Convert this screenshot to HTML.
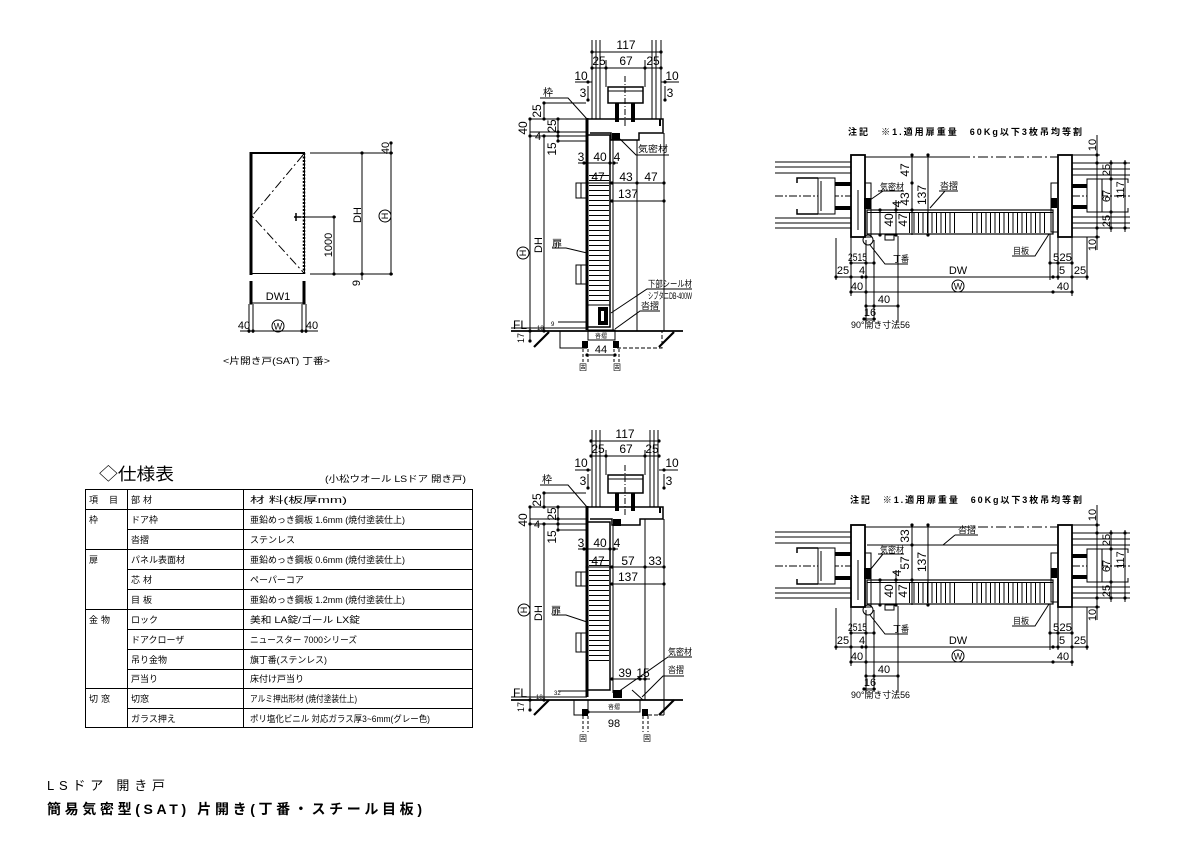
<!DOCTYPE html>
<html><head><meta charset="utf-8">
<style>
html,body{margin:0;padding:0;background:#fff;}
svg{display:block;}
text{font-family:"Liberation Sans","Noto Sans CJK JP",sans-serif;fill:#000;stroke:none;}
</style></head><body>
<svg width="1191" height="842" viewBox="0 0 1191 842" xmlns="http://www.w3.org/2000/svg">
<defs>
<pattern id="hh" width="10" height="5" patternUnits="userSpaceOnUse"><line x1="0" y1="0.5" x2="10" y2="0.5" stroke="#000" stroke-width="1"/></pattern>
<pattern id="vh" width="4.5" height="10" patternUnits="userSpaceOnUse"><line x1="0.5" y1="0" x2="0.5" y2="10" stroke="#000" stroke-width="1"/></pattern>
</defs>
<rect width="1191" height="842" fill="#fff"/>

<!-- ================= ELEVATION ================= -->
<g stroke="#000" stroke-width="1" fill="none">
<rect x="250.5" y="153.5" width="54" height="120"/>
<line x1="251" y1="152" x2="251" y2="275" stroke-width="3"/>
<line x1="304" y1="153" x2="304" y2="274" stroke-width="2.5" stroke-dasharray="2,1.5"/>
<line x1="250" y1="153" x2="305" y2="153" stroke-width="2"/>
<polyline points="303,155 252,216 303,272" stroke-dasharray="9,3,2,3"/>
<line x1="294" y1="217" x2="301" y2="217" stroke-width="1.5"/>
<line x1="296" y1="213" x2="296" y2="221" stroke-width="1.5"/>
<path d="M310 153H393M310 274H393M300 217H336M362 153V280M334 217V274M391 142V274"/>
<line x1="251" y1="281" x2="251" y2="304" stroke-width="3"/>
<line x1="304" y1="281" x2="304" y2="304" stroke-width="3"/>
<path d="M249 304V333M253 304V333M302 304V333M306 304V333M251 303H304M240 331H318"/>
<circle cx="385" cy="216" r="6"/>
<circle cx="278" cy="326" r="6"/>
</g>
<g fill="#000">
<circle cx="391" cy="143" r="1.6"/><circle cx="391" cy="153" r="1.6"/><circle cx="391" cy="274" r="1.6"/>
<circle cx="362" cy="153" r="1.6"/><circle cx="362" cy="274" r="1.6"/><circle cx="334" cy="217" r="1.6"/><circle cx="334" cy="274" r="1.6"/>
<circle cx="251" cy="303" r="1.6"/><circle cx="304" cy="303" r="1.6"/><circle cx="249" cy="331" r="1.6"/><circle cx="253" cy="331" r="1.6"/><circle cx="302" cy="331" r="1.6"/><circle cx="306" cy="331" r="1.6"/>
</g>
<g font-size="11">
<text transform="translate(389,148) rotate(-90)" text-anchor="middle">40</text>
<text transform="translate(361,215) rotate(-90)" text-anchor="middle">DH</text>
<text transform="translate(388,216) rotate(-90)" text-anchor="middle" font-size="9">H</text>
<text transform="translate(332,245) rotate(-90)" text-anchor="middle">1000</text>
<text transform="translate(360,283) rotate(-90)" text-anchor="middle">9</text>
<text x="278" y="300" text-anchor="middle">DW1</text>
<text x="244" y="329" text-anchor="middle">40</text>
<text x="312" y="329" text-anchor="middle">40</text>
<text x="278" y="329.5" text-anchor="middle" font-size="9">W</text>
<text x="223" y="364" font-size="9" textLength="107" lengthAdjust="spacingAndGlyphs">&lt;片開き戸(SAT) 丁番&gt;</text>
</g>

<!-- ================= SECTION 1 (top) ================= -->
<g stroke="#000" stroke-width="1" fill="none">
<path d="M592 40V119M596 40V119M600 40V119M652 40V119M656 40V119M661 40V119M606 60V87M645 60V87"/>
<path d="M592 52H661M592 68H661M575 82H592M661 82H679M588 86V100M665 86V100"/>
<rect x="608" y="87" width="35" height="16" stroke-width="1.5" fill="#fff"/>
<path d="M608 91H643"/>
<path d="M625 76V128" stroke-dasharray="6,2,1,2"/>
<path d="M586 119H663V133H639V140H611V133H590" stroke-width="1.5"/>
<path d="M660 119V126" stroke-width="2"/>
<line x1="587" y1="118" x2="587" y2="330" stroke-width="3"/>
<path d="M587 135H610V327H587" stroke-width="1.5"/>
<path d="M613 140V331M637 140V331M664 133V331M587 305H610"/>
<rect x="588" y="330" width="27" height="10"/>
<path d="M530 119V341M544 103V119M544 136V331M558 119V141"/>
<path d="M530 119H586M530 132H586M530 136H586M544 103H586M558 141H586"/>
<path d="M578 163H618M587 183H664M612 201H664"/>
<path d="M587 183H576V198H587M581 183V198"/>
<path d="M587 265H576V284H587M581 265V284"/>
<path d="M540 98H568L587 119"/>
<path d="M552 248H566L587 253"/>
<path d="M669 155H636L620 139"/>
<path d="M692 289H647L611 313"/>
<path d="M660 311H640L615 329"/>
<line x1="511" y1="331" x2="683" y2="331" stroke-width="1.8"/>
<path d="M511 328H587M558 322H587"/>
<path d="M534 347L549 332M659 347L674 332" stroke-width="2.2"/>
<path d="M560 331V348H587"/>
<path d="M617 348H662V331" stroke-dasharray="4,2"/>
<path d="M583 349V363M588 349V363M614 349V363M619 349V363" stroke-dasharray="3,2"/>
<path d="M587 355H615"/>
</g>
<g fill="#000">
<rect x="615" y="103" width="4" height="19"/><rect x="631" y="103" width="4" height="19"/>
<rect x="612" y="133" width="8" height="7"/>
<rect x="598" y="307" width="10" height="18"/>
<rect x="582" y="341" width="6" height="7"/><rect x="613" y="341" width="6" height="7"/>
<circle cx="592" cy="52" r="1.6"/><circle cx="661" cy="52" r="1.6"/>
<circle cx="592" cy="68" r="1.6"/><circle cx="606" cy="68" r="1.6"/><circle cx="645" cy="68" r="1.6"/><circle cx="661" cy="68" r="1.6"/>
<circle cx="588" cy="82" r="1.6"/><circle cx="665" cy="82" r="1.6"/><circle cx="588" cy="100" r="1.6"/><circle cx="665" cy="100" r="1.6"/>
<circle cx="530" cy="119" r="1.6"/><circle cx="530" cy="136" r="1.6"/><circle cx="530" cy="331" r="1.6"/><circle cx="530" cy="341" r="1.6"/>
<circle cx="544" cy="103" r="1.6"/><circle cx="544" cy="119" r="1.6"/><circle cx="544" cy="136" r="1.6"/><circle cx="544" cy="331" r="1.6"/>
<circle cx="558" cy="119" r="1.6"/><circle cx="558" cy="132" r="1.6"/><circle cx="558" cy="136" r="1.6"/><circle cx="558" cy="141" r="1.6"/>
<circle cx="584" cy="163" r="1.6"/><circle cx="610" cy="163" r="1.6"/><circle cx="614" cy="163" r="1.6"/>
<circle cx="587" cy="183" r="1.6"/><circle cx="612" cy="183" r="1.6"/><circle cx="637" cy="183" r="1.6"/><circle cx="664" cy="183" r="1.6"/>
<circle cx="612" cy="201" r="1.6"/><circle cx="664" cy="201" r="1.6"/>
<circle cx="587" cy="355" r="1.6"/><circle cx="615" cy="355" r="1.6"/>
</g>
<rect x="601" y="311" width="3" height="10" fill="#fff"/>
<rect x="589" y="172" width="20" height="133" fill="url(#hh)"/>
<circle cx="523" cy="253" r="6" fill="none" stroke="#000"/>
<g font-size="12">
<text x="626" y="49" text-anchor="middle">117</text>
<text x="599" y="65" text-anchor="middle">25</text><text x="626" y="65" text-anchor="middle">67</text><text x="653" y="65" text-anchor="middle">25</text>
<text x="581" y="80" text-anchor="middle">10</text><text x="672" y="80" text-anchor="middle">10</text>
<text x="583" y="97" text-anchor="middle">3</text><text x="670" y="97" text-anchor="middle">3</text>
<text x="548" y="96" font-size="10" text-anchor="middle">枠</text>
<text transform="translate(527,128) rotate(-90)" text-anchor="middle">40</text>
<text transform="translate(541,111) rotate(-90)" text-anchor="middle">25</text>
<text transform="translate(556,126) rotate(-90)" text-anchor="middle">25</text>
<text x="538" y="140" text-anchor="middle" font-size="11">4</text>
<text transform="translate(556,149) rotate(-90)" text-anchor="middle">15</text>
<text x="638" y="152" font-size="9" textLength="30" lengthAdjust="spacingAndGlyphs">気密材</text>
<text x="581" y="161" text-anchor="middle">3</text><text x="600" y="161" text-anchor="middle">40</text><text x="617" y="161" text-anchor="middle">4</text>
<text x="598" y="181" text-anchor="middle">47</text><text x="626" y="181" text-anchor="middle">43</text><text x="651" y="181" text-anchor="middle">47</text>
<text x="628" y="198" text-anchor="middle">137</text>
<text x="557" y="247" text-anchor="middle" font-size="10">扉</text>
<text transform="translate(526,253) rotate(-90)" text-anchor="middle" font-size="9">H</text>
<text transform="translate(542,245) rotate(-90)" text-anchor="middle" font-size="11">DH</text>
<text x="648" y="287" font-size="9" textLength="44" lengthAdjust="spacingAndGlyphs">下部シール材</text>
<text x="648" y="299" font-size="9" textLength="44" lengthAdjust="spacingAndGlyphs">シブタニDB-400W</text>
<text x="641" y="309" font-size="9" textLength="18" lengthAdjust="spacingAndGlyphs">沓摺</text>
<text x="513" y="329">FL</text>
<text transform="translate(524,338) rotate(-90)" text-anchor="middle" font-size="9">17</text>
<text x="537" y="330" font-size="6">18</text><text x="551" y="326" font-size="6">9</text>
<text x="601" y="338" font-size="6" text-anchor="middle">沓摺</text>
<text x="601" y="353" text-anchor="middle" font-size="11">44</text>
<text x="583" y="370" font-size="8" text-anchor="middle">固</text><text x="617" y="370" font-size="8" text-anchor="middle">固</text>
</g>

<!-- ================= SECTION 2 (bottom) ================= -->
<g stroke="#000" stroke-width="1" fill="none">
<path d="M592 430V507M596 430V507M600 430V507M650 430V507M654 430V507M658 430V507M606 450V475M645 450V475"/>
<path d="M591 441H659M591 456H659M575 470H591M659 470H678M588 474V488M664 474V488"/>
<rect x="608" y="475" width="35" height="18" stroke-width="1.5" fill="#fff"/>
<path d="M608 479H643"/>
<path d="M625 465V516" stroke-dasharray="6,2,1,2"/>
<path d="M586 507H663V519H640V525H612V519H590" stroke-width="1.5"/>
<path d="M660 507V513" stroke-width="2"/>
<line x1="587" y1="506" x2="587" y2="697" stroke-width="3"/>
<path d="M587 522H610V690H587" stroke-width="1.5"/>
<path d="M613 525V693M645 519V688M664 519V715"/>
<path d="M632 690L643 700M645 688L645 700"/>
<rect x="588" y="700" width="52" height="12"/>
<path d="M530 507V710M544 493V507M544 524V700M558 507V530"/>
<path d="M530 507H586M530 519H586M530 524H586M544 493H586M558 530H586"/>
<path d="M578 549H618M587 567H664M612 584H664M612 679H650"/>
<path d="M587 572H576V586H587M581 572V586"/>
<path d="M587 633H576V652H587M581 633V652"/>
<path d="M540 485H568L587 507"/>
<path d="M552 615H566L587 622"/>
<path d="M692 657H668L618 692"/>
<path d="M684 676H663L642 697"/>
<line x1="511" y1="700" x2="683" y2="700" stroke-width="1.8"/>
<path d="M511 697H587M558 691H587"/>
<path d="M534 715L549 700M659 715L674 700" stroke-width="2.2"/>
<path d="M574 700V715H588"/>
<path d="M648 715H664V700" stroke-dasharray="4,2"/>
<path d="M583 716V732M588 716V732M643 716V732M648 716V732" stroke-dasharray="3,2"/>
</g>
<g fill="#000">
<rect x="615" y="493" width="4" height="18"/><rect x="631" y="493" width="4" height="18"/>
<rect x="613" y="519" width="8" height="7"/>
<rect x="613" y="690" width="9" height="8"/>
<rect x="582" y="709" width="6" height="7"/><rect x="642" y="709" width="6" height="7"/>
<circle cx="591" cy="441" r="1.6"/><circle cx="659" cy="441" r="1.6"/>
<circle cx="591" cy="456" r="1.6"/><circle cx="606" cy="456" r="1.6"/><circle cx="645" cy="456" r="1.6"/><circle cx="659" cy="456" r="1.6"/>
<circle cx="588" cy="470" r="1.6"/><circle cx="664" cy="470" r="1.6"/><circle cx="588" cy="488" r="1.6"/><circle cx="664" cy="488" r="1.6"/>
<circle cx="530" cy="507" r="1.6"/><circle cx="530" cy="524" r="1.6"/><circle cx="530" cy="700" r="1.6"/><circle cx="530" cy="710" r="1.6"/>
<circle cx="544" cy="493" r="1.6"/><circle cx="544" cy="507" r="1.6"/><circle cx="544" cy="524" r="1.6"/><circle cx="544" cy="700" r="1.6"/>
<circle cx="558" cy="507" r="1.6"/><circle cx="558" cy="519" r="1.6"/><circle cx="558" cy="524" r="1.6"/><circle cx="558" cy="530" r="1.6"/>
<circle cx="584" cy="549" r="1.6"/><circle cx="610" cy="549" r="1.6"/><circle cx="614" cy="549" r="1.6"/>
<circle cx="587" cy="567" r="1.6"/><circle cx="612" cy="567" r="1.6"/><circle cx="645" cy="567" r="1.6"/><circle cx="664" cy="567" r="1.6"/>
<circle cx="612" cy="584" r="1.6"/><circle cx="664" cy="584" r="1.6"/>
<circle cx="612" cy="679" r="1.6"/><circle cx="640" cy="679" r="1.6"/><circle cx="645" cy="679" r="1.6"/>
<circle cx="588" cy="712" r="1.6"/><circle cx="646" cy="712" r="1.6"/>
</g>
<rect x="589" y="557" width="20" height="108" fill="url(#hh)"/>
<circle cx="524" cy="610" r="6" fill="none" stroke="#000"/>
<g font-size="12">
<text x="625" y="438" text-anchor="middle">117</text>
<text x="598" y="453" text-anchor="middle">25</text><text x="626" y="453" text-anchor="middle">67</text><text x="652" y="453" text-anchor="middle">25</text>
<text x="581" y="467" text-anchor="middle">10</text><text x="672" y="467" text-anchor="middle">10</text>
<text x="583" y="485" text-anchor="middle">3</text><text x="669" y="485" text-anchor="middle">3</text>
<text x="547" y="483" font-size="10" text-anchor="middle">枠</text>
<text transform="translate(527,520) rotate(-90)" text-anchor="middle">40</text>
<text transform="translate(541,500) rotate(-90)" text-anchor="middle">25</text>
<text transform="translate(556,514) rotate(-90)" text-anchor="middle">25</text>
<text x="537" y="528" text-anchor="middle" font-size="11">4</text>
<text transform="translate(556,537) rotate(-90)" text-anchor="middle">15</text>
<text x="581" y="547" text-anchor="middle">3</text><text x="600" y="547" text-anchor="middle">40</text><text x="617" y="547" text-anchor="middle">4</text>
<text x="598" y="565" text-anchor="middle">47</text><text x="628" y="565" text-anchor="middle">57</text><text x="655" y="565" text-anchor="middle">33</text>
<text x="628" y="581" text-anchor="middle">137</text>
<text x="556" y="614" text-anchor="middle" font-size="10">扉</text>
<text transform="translate(527,610) rotate(-90)" text-anchor="middle" font-size="9">H</text>
<text transform="translate(542,613) rotate(-90)" text-anchor="middle" font-size="11">DH</text>
<text x="625" y="677" text-anchor="middle">39</text><text x="643" y="677" text-anchor="middle">15</text>
<text x="668" y="655" font-size="9" textLength="24" lengthAdjust="spacingAndGlyphs">気密材</text>
<text x="668" y="673" font-size="9" textLength="16" lengthAdjust="spacingAndGlyphs">沓摺</text>
<text x="513" y="697">FL</text>
<text transform="translate(524,707) rotate(-90)" text-anchor="middle" font-size="9">17</text>
<text x="536" y="699" font-size="6">18</text><text x="554" y="695" font-size="6">32</text>
<text x="614" y="709" font-size="6" text-anchor="middle">沓摺</text>
<text x="614" y="727" text-anchor="middle" font-size="11">98</text>
<text x="583" y="741" font-size="8" text-anchor="middle">固</text><text x="647" y="741" font-size="8" text-anchor="middle">固</text>
</g>

<!-- ================= PLAN 1 ================= -->
<g>
<g stroke="#000" stroke-width="1" fill="none">
<path d="M775 162H851M775 167H851M775 173H851M775 218H851M775 223H851M775 228H851"/>
<path d="M775 196H851" stroke-dasharray="8,2,2,2"/>
<path d="M818 178H797V183M818 214H797V209" stroke-width="1.5"/>
<rect x="818" y="178" width="17" height="36" fill="#fff"/>
<path d="M821 181V211"/>
<rect x="851" y="155" width="14" height="82" stroke-width="1.8" fill="#fff"/>
<path d="M865 183H871V237H865M858 190V230"/>
<rect x="1058" y="155" width="14" height="82" stroke-width="1.8" fill="#fff"/>
<path d="M1058 183H1051V232H1058"/>
<path d="M1072 163H1130M1072 169H1130M1072 175H1130M1072 217H1130M1072 223H1130M1072 228H1130"/>
<path d="M1072 196H1130" stroke-dasharray="8,2,2,2"/>
<rect x="1087" y="179" width="15" height="33" fill="#fff"/>
<path d="M1102 179H1128V183M1102 212H1128V208"/>
<path d="M865 157H960"/>
<path d="M960 157H1058" stroke-dasharray="10,3,2,3"/>
<rect x="867" y="210" width="186" height="24" stroke-width="1.2"/>
<path d="M867 212.5H1053"/>
<circle cx="868" cy="240" r="5"/>
<rect x="885" y="235" width="9" height="5"/>
<path d="M912 155V235M928 155V235M896 200V235M880 210V235"/>
<path d="M836 238V280M851 237V296M866 240V322M874 240V322M898 236V322M1050 234V280M1058 237V280M1072 237V296M1087 237V280"/>
<path d="M851 263H874M1050 263H1072M836 277H1087M851 292H1072M866 306H898M864 319H876"/>
<path d="M1097 135V250M1111 160V232M1125 160V232M1072 155H1100M1072 237H1100"/>
<path d="M908 264H885L870 245"/>
<path d="M1012 256H1035L1049 234"/>
<path d="M939 191H958M945 191L930 208"/>
<path d="M878 191H904M883 191L870 200"/>
</g>
<g fill="#000">
<rect x="835" y="182" width="16" height="4"/><rect x="835" y="206" width="16" height="4"/>
<rect x="1072" y="184" width="15" height="4"/><rect x="1072" y="205" width="15" height="4"/>
<rect x="864" y="198" width="7" height="11"/><rect x="1051" y="198" width="6" height="10"/>
<circle cx="912" cy="155" r="1.6"/><circle cx="912" cy="183" r="1.6"/><circle cx="912" cy="210" r="1.6"/>
<circle cx="928" cy="155" r="1.6"/><circle cx="928" cy="235" r="1.6"/>
<circle cx="896" cy="210" r="1.6"/><circle cx="896" cy="235" r="1.6"/><circle cx="880" cy="210" r="1.6"/><circle cx="880" cy="235" r="1.6"/>
<circle cx="851" cy="263" r="1.6"/><circle cx="866" cy="263" r="1.6"/><circle cx="874" cy="263" r="1.6"/>
<circle cx="1050" cy="263" r="1.6"/><circle cx="1058" cy="263" r="1.6"/><circle cx="1072" cy="263" r="1.6"/>
<circle cx="836" cy="277" r="1.6"/><circle cx="851" cy="277" r="1.6"/><circle cx="862" cy="277" r="1.6"/><circle cx="866" cy="277" r="1.6"/>
<circle cx="1053" cy="277" r="1.6"/><circle cx="1058" cy="277" r="1.6"/><circle cx="1072" cy="277" r="1.6"/><circle cx="1087" cy="277" r="1.6"/>
<circle cx="851" cy="292" r="1.6"/><circle cx="866" cy="292" r="1.6"/><circle cx="1053" cy="292" r="1.6"/><circle cx="1072" cy="292" r="1.6"/>
<circle cx="866" cy="306" r="1.6"/><circle cx="874" cy="306" r="1.6"/><circle cx="898" cy="306" r="1.6"/>
<circle cx="864" cy="319" r="1.6"/><circle cx="874" cy="319" r="1.6"/>
<circle cx="1097" cy="155" r="1.6"/><circle cx="1097" cy="163" r="1.6"/><circle cx="1097" cy="228" r="1.6"/><circle cx="1097" cy="237" r="1.6"/>
<circle cx="1111" cy="163" r="1.6"/><circle cx="1111" cy="179" r="1.6"/><circle cx="1111" cy="212" r="1.6"/><circle cx="1111" cy="228" r="1.6"/>
<circle cx="1125" cy="163" r="1.6"/><circle cx="1125" cy="228" r="1.6"/>
</g>
<rect x="908" y="213" width="50" height="20" fill="url(#vh)"/>
<rect x="970" y="213" width="76" height="20" fill="url(#vh)"/>
<circle cx="958" cy="286" r="6" fill="none" stroke="#000"/>
</g>
<g font-size="12">
<text x="848" y="135" font-size="9" font-weight="bold" textLength="234" lengthAdjust="spacing">注記　※1.適用扉重量　60Kg以下3枚吊均等割</text>
<text transform="translate(909,170) rotate(-90)" text-anchor="middle">47</text>
<text transform="translate(909,199) rotate(-90)" text-anchor="middle">43</text>
<text transform="translate(926,195) rotate(-90)" text-anchor="middle">137</text>
<text transform="translate(901,204) rotate(-90)" text-anchor="middle">4</text>
<text transform="translate(893,220) rotate(-90)" text-anchor="middle">40</text>
<text transform="translate(907,220) rotate(-90)" text-anchor="middle">47</text>
<text x="880" y="190" font-size="9" textLength="24" lengthAdjust="spacingAndGlyphs">気密材</text>
<text x="940" y="189" font-size="9" textLength="18" lengthAdjust="spacingAndGlyphs">沓摺</text>
<text x="893" y="262" font-size="9" textLength="16" lengthAdjust="spacingAndGlyphs">丁番</text>
<text x="1013" y="254" font-size="9" textLength="16" lengthAdjust="spacingAndGlyphs">目板</text>
<text x="848" y="261" font-size="11" textLength="19" lengthAdjust="spacingAndGlyphs">2515</text>
<text x="843" y="274" text-anchor="middle" font-size="11">25</text>
<text x="862" y="274" text-anchor="middle" font-size="11">4</text>
<text x="958" y="274" text-anchor="middle" font-size="11">DW</text>
<text x="958" y="289.5" text-anchor="middle" font-size="9">W</text>
<text x="857" y="290" text-anchor="middle" font-size="11">40</text>
<text x="1063" y="290" text-anchor="middle" font-size="11">40</text>
<text x="1053" y="261" font-size="11" textLength="19" lengthAdjust="spacingAndGlyphs">525</text>
<text x="1062" y="274" text-anchor="middle" font-size="11">5</text>
<text x="1080" y="274" text-anchor="middle" font-size="11">25</text>
<text x="884" y="303" text-anchor="middle" font-size="11">40</text>
<text x="870" y="316" text-anchor="middle" font-size="11">16</text>
<text x="851" y="328" font-size="9" textLength="59" lengthAdjust="spacingAndGlyphs">90°開き寸法56</text>
<text transform="translate(1096,145) rotate(-90)" text-anchor="middle" font-size="11">10</text>
<text transform="translate(1096,245) rotate(-90)" text-anchor="middle" font-size="11">10</text>
<text transform="translate(1110,170) rotate(-90)" text-anchor="middle" font-size="11">25</text>
<text transform="translate(1110,196) rotate(-90)" text-anchor="middle" font-size="11">67</text>
<text transform="translate(1110,221) rotate(-90)" text-anchor="middle" font-size="11">25</text>
<text transform="translate(1124,190) rotate(-90)" text-anchor="middle" font-size="11">117</text>
</g>

<!-- ================= PLAN 2 ================= -->
<g transform="translate(0,370)">
<g stroke="#000" stroke-width="1" fill="none">
<path d="M775 162H851M775 167H851M775 173H851M775 218H851M775 223H851M775 228H851"/>
<path d="M775 196H851" stroke-dasharray="8,2,2,2"/>
<path d="M818 178H797V183M818 214H797V209" stroke-width="1.5"/>
<rect x="818" y="178" width="17" height="36" fill="#fff"/>
<path d="M821 181V211"/>
<rect x="851" y="155" width="14" height="82" stroke-width="1.8" fill="#fff"/>
<path d="M865 183H871V237H865M858 190V230"/>
<rect x="1058" y="155" width="14" height="82" stroke-width="1.8" fill="#fff"/>
<path d="M1058 183H1051V232H1058"/>
<path d="M1072 163H1130M1072 169H1130M1072 175H1130M1072 217H1130M1072 223H1130M1072 228H1130"/>
<path d="M1072 196H1130" stroke-dasharray="8,2,2,2"/>
<rect x="1087" y="179" width="15" height="33" fill="#fff"/>
<path d="M1102 179H1128V183M1102 212H1128V208"/>
<path d="M865 157H960"/>
<path d="M960 157H1058" stroke-dasharray="10,3,2,3"/>
<path d="M867 175H1057"/>
<rect x="867" y="210" width="186" height="24" stroke-width="1.2"/>
<path d="M867 212.5H1053"/>
<circle cx="868" cy="240" r="5"/>
<rect x="885" y="235" width="9" height="5"/>
<path d="M912 155V235M928 155V235M896 200V235M880 210V235"/>
<path d="M836 238V280M851 237V296M866 240V322M874 240V322M898 236V322M1050 234V280M1058 237V280M1072 237V296M1087 237V280"/>
<path d="M851 263H874M1050 263H1072M836 277H1087M851 292H1072M866 306H898M864 319H876"/>
<path d="M1097 135V250M1111 160V232M1125 160V232M1072 155H1100M1072 237H1100"/>
<path d="M908 264H885L870 245"/>
<path d="M1012 256H1035L1049 234"/>
<path d="M955 165H978M955 165L943 175"/>
<path d="M878 184H904M883 184L870 200"/>
</g>
<g fill="#000">
<rect x="835" y="182" width="16" height="4"/><rect x="835" y="206" width="16" height="4"/>
<rect x="1072" y="184" width="15" height="4"/><rect x="1072" y="205" width="15" height="4"/>
<rect x="864" y="198" width="7" height="11"/><rect x="1051" y="198" width="6" height="10"/>
<circle cx="912" cy="155" r="1.6"/><circle cx="912" cy="175" r="1.6"/><circle cx="912" cy="210" r="1.6"/>
<circle cx="928" cy="155" r="1.6"/><circle cx="928" cy="235" r="1.6"/>
<circle cx="896" cy="210" r="1.6"/><circle cx="896" cy="235" r="1.6"/><circle cx="880" cy="210" r="1.6"/><circle cx="880" cy="235" r="1.6"/>
<circle cx="851" cy="263" r="1.6"/><circle cx="866" cy="263" r="1.6"/><circle cx="874" cy="263" r="1.6"/>
<circle cx="1050" cy="263" r="1.6"/><circle cx="1058" cy="263" r="1.6"/><circle cx="1072" cy="263" r="1.6"/>
<circle cx="836" cy="277" r="1.6"/><circle cx="851" cy="277" r="1.6"/><circle cx="862" cy="277" r="1.6"/><circle cx="866" cy="277" r="1.6"/>
<circle cx="1053" cy="277" r="1.6"/><circle cx="1058" cy="277" r="1.6"/><circle cx="1072" cy="277" r="1.6"/><circle cx="1087" cy="277" r="1.6"/>
<circle cx="851" cy="292" r="1.6"/><circle cx="866" cy="292" r="1.6"/><circle cx="1053" cy="292" r="1.6"/><circle cx="1072" cy="292" r="1.6"/>
<circle cx="866" cy="306" r="1.6"/><circle cx="874" cy="306" r="1.6"/><circle cx="898" cy="306" r="1.6"/>
<circle cx="864" cy="319" r="1.6"/><circle cx="874" cy="319" r="1.6"/>
<circle cx="1097" cy="155" r="1.6"/><circle cx="1097" cy="163" r="1.6"/><circle cx="1097" cy="228" r="1.6"/><circle cx="1097" cy="237" r="1.6"/>
<circle cx="1111" cy="163" r="1.6"/><circle cx="1111" cy="179" r="1.6"/><circle cx="1111" cy="212" r="1.6"/><circle cx="1111" cy="228" r="1.6"/>
<circle cx="1125" cy="163" r="1.6"/><circle cx="1125" cy="228" r="1.6"/>
</g>
<rect x="908" y="213" width="50" height="20" fill="url(#vh)"/>
<rect x="970" y="213" width="76" height="20" fill="url(#vh)"/>
<circle cx="958" cy="286" r="6" fill="none" stroke="#000"/>
<g font-size="12">
<text x="850" y="133" font-size="9" font-weight="bold" textLength="232" lengthAdjust="spacing">注記　※1.適用扉重量　60Kg以下3枚吊均等割</text>
<text transform="translate(909,166) rotate(-90)" text-anchor="middle">33</text>
<text transform="translate(909,193) rotate(-90)" text-anchor="middle">57</text>
<text transform="translate(926,192) rotate(-90)" text-anchor="middle">137</text>
<text transform="translate(901,203) rotate(-90)" text-anchor="middle">4</text>
<text transform="translate(893,221) rotate(-90)" text-anchor="middle">40</text>
<text transform="translate(907,221) rotate(-90)" text-anchor="middle">47</text>
<text x="880" y="183" font-size="9" textLength="24" lengthAdjust="spacingAndGlyphs">気密材</text>
<text x="958" y="163" font-size="9" textLength="18" lengthAdjust="spacingAndGlyphs">沓摺</text>
<text x="893" y="262" font-size="9" textLength="16" lengthAdjust="spacingAndGlyphs">丁番</text>
<text x="1013" y="254" font-size="9" textLength="16" lengthAdjust="spacingAndGlyphs">目板</text>
<text x="848" y="261" font-size="11" textLength="19" lengthAdjust="spacingAndGlyphs">2515</text>
<text x="843" y="274" text-anchor="middle" font-size="11">25</text>
<text x="862" y="274" text-anchor="middle" font-size="11">4</text>
<text x="958" y="274" text-anchor="middle" font-size="11">DW</text>
<text x="958" y="289.5" text-anchor="middle" font-size="9">W</text>
<text x="857" y="290" text-anchor="middle" font-size="11">40</text>
<text x="1063" y="290" text-anchor="middle" font-size="11">40</text>
<text x="1053" y="261" font-size="11" textLength="19" lengthAdjust="spacingAndGlyphs">525</text>
<text x="1062" y="274" text-anchor="middle" font-size="11">5</text>
<text x="1080" y="274" text-anchor="middle" font-size="11">25</text>
<text x="884" y="303" text-anchor="middle" font-size="11">40</text>
<text x="870" y="316" text-anchor="middle" font-size="11">16</text>
<text x="851" y="328" font-size="9" textLength="59" lengthAdjust="spacingAndGlyphs">90°開き寸法56</text>
<text transform="translate(1096,145) rotate(-90)" text-anchor="middle" font-size="11">10</text>
<text transform="translate(1096,245) rotate(-90)" text-anchor="middle" font-size="11">10</text>
<text transform="translate(1110,170) rotate(-90)" text-anchor="middle" font-size="11">25</text>
<text transform="translate(1110,196) rotate(-90)" text-anchor="middle" font-size="11">67</text>
<text transform="translate(1110,221) rotate(-90)" text-anchor="middle" font-size="11">25</text>
<text transform="translate(1124,190) rotate(-90)" text-anchor="middle" font-size="11">117</text>
</g>
</g>

<!-- ================= TABLE ================= -->
<text x="99" y="480" font-size="17" textLength="75" lengthAdjust="spacingAndGlyphs">◇仕様表</text>
<text x="325" y="482" font-size="9" textLength="141" lengthAdjust="spacingAndGlyphs">(小松ウオール LSドア 開き戸)</text>
<g stroke="#000" stroke-width="1" fill="none">
<rect x="85.5" y="489.5" width="387" height="238"/>
<path d="M127.5 489V728M243.5 489V728"/>
<path d="M85 509.5H473M127 529.5H473M85 549.5H473M127 569.5H473M127 589.5H473M85 609.5H473M127 629.5H473M127 649.5H473M127 669.5H473M85 688.5H473M127 708.5H473"/>
</g>
<g font-size="9">
<text x="89" y="503" textLength="29" lengthAdjust="spacing">項 目</text>
<text x="131" y="503" textLength="21" lengthAdjust="spacing">部 材</text>
<text x="250" y="503" textLength="97" lengthAdjust="spacingAndGlyphs">材 料(板厚mm)</text>
<text x="89" y="523">枠</text>
<text x="131" y="523">ドア枠</text>
<text x="250" y="523" textLength="155" lengthAdjust="spacingAndGlyphs">亜鉛めっき鋼板 1.6mm (焼付塗装仕上)</text>
<text x="131" y="543">沓摺</text>
<text x="250" y="543">ステンレス</text>
<text x="89" y="563">扉</text>
<text x="131" y="563">パネル表面材</text>
<text x="250" y="563" textLength="155" lengthAdjust="spacingAndGlyphs">亜鉛めっき鋼板 0.6mm (焼付塗装仕上)</text>
<text x="131" y="583" textLength="21" lengthAdjust="spacing">芯 材</text>
<text x="250" y="583">ペーパーコア</text>
<text x="131" y="603" textLength="21" lengthAdjust="spacing">目 板</text>
<text x="250" y="603" textLength="155" lengthAdjust="spacingAndGlyphs">亜鉛めっき鋼板 1.2mm (焼付塗装仕上)</text>
<text x="89" y="623" textLength="21" lengthAdjust="spacing">金 物</text>
<text x="131" y="623">ロック</text>
<text x="250" y="623" textLength="110" lengthAdjust="spacingAndGlyphs">美和 LA錠/ゴール LX錠</text>
<text x="131" y="643">ドアクローザ</text>
<text x="250" y="643" textLength="107" lengthAdjust="spacingAndGlyphs">ニュースター 7000シリーズ</text>
<text x="131" y="663">吊り金物</text>
<text x="250" y="663" textLength="77" lengthAdjust="spacingAndGlyphs">旗丁番(ステンレス)</text>
<text x="131" y="682">戸当り</text>
<text x="250" y="682">床付け戸当り</text>
<text x="89" y="702" textLength="21" lengthAdjust="spacing">切 窓</text>
<text x="131" y="702">切窓</text>
<text x="250" y="702" textLength="107" lengthAdjust="spacingAndGlyphs">アルミ押出形材 (焼付塗装仕上)</text>
<text x="131" y="722">ガラス押え</text>
<text x="250" y="722" textLength="180" lengthAdjust="spacingAndGlyphs">ポリ塩化ビニル 対応ガラス厚3~6mm(グレー色)</text>
</g>

<!-- ================= BOTTOM TITLE ================= -->
<text x="47" y="790" font-size="13" textLength="118" lengthAdjust="spacing">LSドア 開き戸</text>
<text x="47" y="814" font-size="14" font-weight="bold" textLength="375" lengthAdjust="spacing">簡易気密型(SAT) 片開き(丁番・スチール目板)</text>
</svg>
</body></html>
